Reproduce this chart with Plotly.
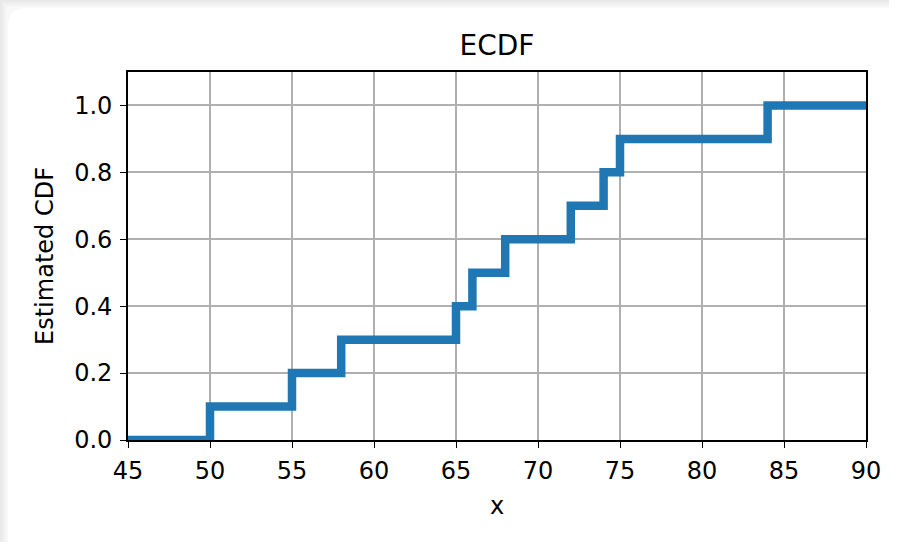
import plotly.graph_objects as go

# Data
samples = [50, 55, 58, 65, 66, 68, 72, 74, 75, 84]
x_range = [45, 90]
y_range = [0, 1.1]
x_ticks = [45, 50, 55, 60, 65, 70, 75, 80, 85, 90]
y_ticks = [0.0, 0.2, 0.4, 0.6, 0.8, 1.0]
y_tick_labels = ["0.0", "0.2", "0.4", "0.6", "0.8", "1.0"]

n = len(samples)
xs = [x_range[0]] + samples + [x_range[1]]
ys = [0.0] + [(i + 1) / n for i in range(n)] + [1.0]

W, H = 901, 546
L, R, T, B = 128, 35, 72, 106

fig = go.Figure()
fig.add_trace(go.Scatter(
    x=xs, y=ys, mode="lines", line=dict(shape="hv", color="#1f77b4", width=8.5),
    hoverinfo="skip", showlegend=False, cliponaxis=True,
))

font = "DejaVu Sans, Liberation Sans, sans-serif"

def px2px(px):
    return (px - L) / (W - L - R)

def py2py(py):
    return (H - B - py) / (H - T - B)

shapes = []
greys = ["#e9e9e9", "#eeeeee", "#f3f3f3", "#f8f8f8"]
for i, g in enumerate(greys):
    x0, x1 = i * 2, i * 2 + 2
    shapes.append(dict(type="rect", xref="paper", yref="paper", layer="below",
                       x0=px2px(x0), x1=px2px(x1), y0=py2py(H - 4), y1=py2py(20),
                       fillcolor=g, line=dict(width=0)))
    shapes.append(dict(type="rect", xref="paper", yref="paper", layer="below",
                       x0=px2px(20), x1=px2px(W - 12), y0=py2py(x1), y1=py2py(x0),
                       fillcolor=g, line=dict(width=0)))
for i, g in enumerate(greys):
    shapes.append(dict(type="rect", xref="paper", yref="paper", layer="below",
                       x0=px2px(i * 2), x1=px2px(20), y0=py2py(20), y1=py2py(i * 2),
                       fillcolor=g, line=dict(width=0)))
shapes.append(dict(type="path", xref="paper", yref="paper", layer="below",
                   path="M {a},{b} Q {a},{c} {d},{c} L {e},{c} L {e},{b} Z".format(
                       a=px2px(8), b=py2py(26), c=py2py(8), d=px2px(26), e=px2px(30)),
                   fillcolor="white", line=dict(width=0)))

fig.update_layout(
    width=W, height=H,
    margin=dict(l=L, r=R, t=T, b=B),
    paper_bgcolor="white", plot_bgcolor="white",
    font=dict(family=font, size=24, color="black"),
    title=dict(text="ECDF", x=0.5 * (L + W - R) / W, xanchor="center",
               y=1 - 45 / H, yanchor="middle", font=dict(size=28, family=font)),
    shapes=shapes,
    xaxis=dict(
        range=x_range, tickvals=x_ticks, ticktext=[str(t) for t in x_ticks],
        showgrid=True, gridcolor="#b0b0b0", gridwidth=1.5,
        showline=True, linecolor="black", linewidth=1.6, mirror=True,
        ticks="outside", ticklen=6, tickwidth=1.4, tickcolor="black",
        zeroline=False, title=dict(text="x", font=dict(size=24), standoff=14),
        tickfont=dict(size=24), ticklabelstandoff=2,
    ),
    yaxis=dict(
        range=y_range, tickvals=y_ticks, ticktext=y_tick_labels,
        showgrid=True, gridcolor="#b0b0b0", gridwidth=1.5,
        showline=True, linecolor="black", linewidth=1.6, mirror=True,
        ticks="outside", ticklen=6, tickwidth=1.4, tickcolor="black",
        zeroline=False, title=dict(text="Estimated CDF", font=dict(size=24), standoff=14),
        tickfont=dict(size=24), ticklabelstandoff=3,
    ),
)

fig.write_html("out.html")
